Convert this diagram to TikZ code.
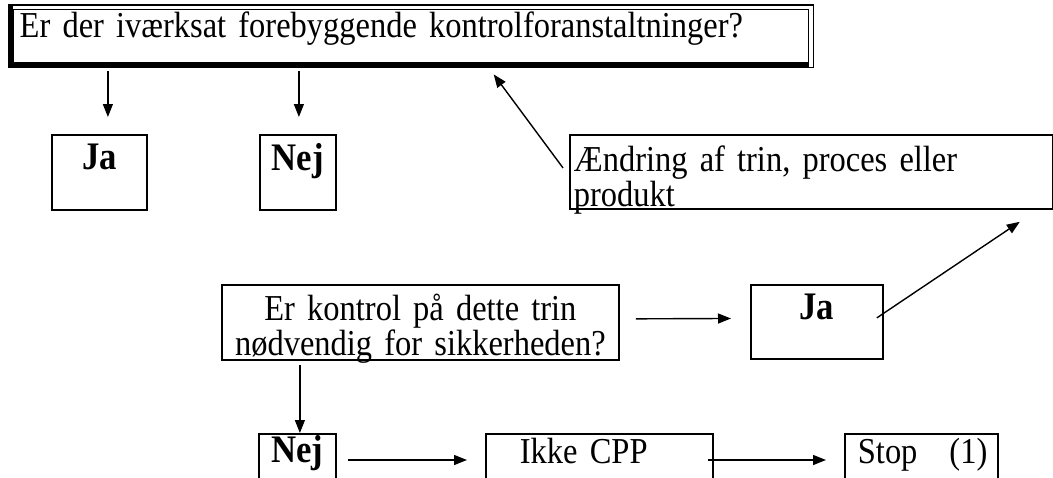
\documentclass[tikz,border=0pt]{standalone}
\usepackage{fontspec}
\setmainfont[FakeStretch=0.89]{Liberation Serif}
\usetikzlibrary{arrows.meta}
\newcommand{\tekst}{\fontsize{36.5}{27}\selectfont}
\tikzset{
	boks/.style={draw,line width=1.8pt,inner sep=0pt,anchor=north west},
	fed/.style={font=\fontsize{39}{27}\selectfont\bfseries},
	pil/.style={->,line width=1.4pt},
}
\begin{document}
\begin{tikzpicture}[x=1pt,y=-1pt,>={Triangle[length=13pt,width=10pt]},font=\tekst]
			\useasboundingbox (0,0) rectangle (1053,477);
			\clip (0,0) rectangle (1053,477);
			% spoergsmaal oeverst
			\node[boks,line width=1.4pt,minimum width=795pt,text width=783pt,inner xsep=6pt,align=left,text height=28pt,text depth=25pt] (sporg) at (13,9) {Er der iværksat forebyggende kontrolforanstaltninger?};
			\draw[line width=1.4pt]([xshift=-4pt,yshift=4pt]sporg.north west) rectangle ([xshift=4pt,yshift=-4pt]sporg.south east);
			\fill([xshift=-4pt,yshift=4pt]sporg.north west) rectangle (sporg.south west);
			\fill([xshift=-4pt,yshift=-4pt]sporg.south west) rectangle (sporg.south east);
			\node[boks,fed,minimum width=95pt,text height=35pt,text depth=40pt] (ja1) at (51,134) {Ja};
			\node[boks,fed,minimum width=76pt,text height=36pt,text depth=39pt] (nej1) at (259,134) {Nej};
			\node[boks,minimum width=483pt,text width=475pt,inner xsep=4pt,align=left,text height=37pt,text depth=37pt] (aendr) at (569,134) {Ændring af trin, proces eller\\ produkt};
			% spoergsmaal 2
			\node[boks,minimum width=397pt,text width=389pt,inner xsep=4pt,align=center,text height=36pt,text depth=39pt] (kontrol) at (221,284) {Er kontrol på dette trin\\ nødvendig for sikkerheden?};
			\node[boks,fed,minimum width=132pt,text height=35pt,text depth=39pt] (ja2) at (750,284) {Ja};
			\node[boks,fed,minimum width=77pt,text height=29pt,text depth=46pt] (nej2) at (258,433) {Nej};
			\node[boks,minimum width=227pt,text width=211pt,inner xsep=8pt,align=left,text height=30pt,text depth=45pt] (ikke) at (485,433) {\hspace*{26pt}Ikke CPP};
			\node[boks,minimum width=153pt,text width=127pt,inner xsep=13pt,align=left,text height=30pt,text depth=45pt] (stop) at (844,433) {\mbox{Stop\hspace{32pt}(1)}};
			% pile
			\draw[pil,shorten <=8pt,shorten >=17pt]([xshift=8.5pt]ja1.north |- sporg.south)--([xshift=8.5pt]ja1.north);
			\draw[pil,shorten <=8pt,shorten >=17pt]([xshift=1pt]nej1.north |- sporg.south)--([xshift=1pt]nej1.north);
			\draw[pil]([xshift=-6pt,yshift=4pt]aendr.west)--([xshift=82.5pt,yshift=-11pt]sporg.south);
			\draw[pil,shorten <=16pt,shorten >=19pt]([yshift=3.5pt]kontrol.east)--([yshift=3.5pt]ja2.west);
			\draw[pil]([xshift=-7pt,yshift=4pt]ja2.east)--([xshift=-34pt,yshift=-12pt]aendr.south east);
			\draw[pil,shorten <=4pt]([xshift=2.5pt]nej2.north |- kontrol.south)--([xshift=2.5pt]nej2.north);
			\draw[pil,shorten <=11pt,shorten >=18pt]([yshift=-27pt]nej2.north east)--([yshift=-27pt]ikke.north west);
			\draw[pil,shorten >=18pt]([xshift=-6pt,yshift=-27pt]ikke.north east)--([yshift=-27pt]stop.north west);
		\end{tikzpicture}
\end{document}
